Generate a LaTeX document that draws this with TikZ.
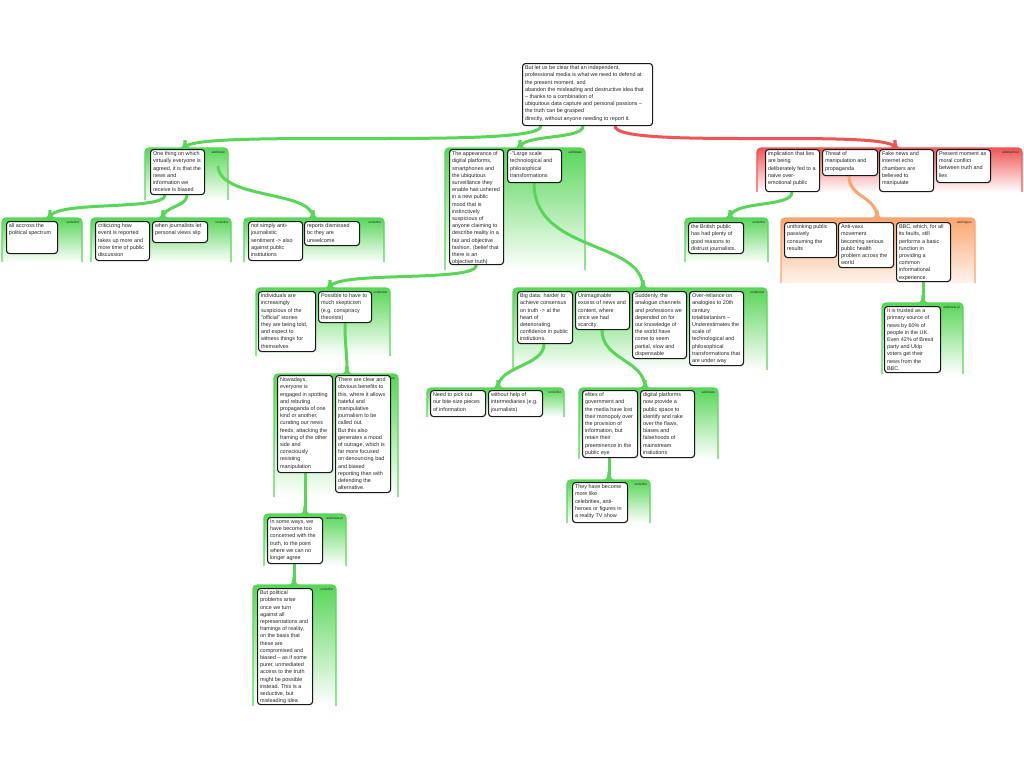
\documentclass[tikz,border=0pt]{standalone}
\usepackage{fontspec}
\setmainfont{Liberation Sans}
\usetikzlibrary{calc}
\pgfdeclarelayer{grp}
\pgfdeclarelayer{lnk}
\pgfsetlayers{grp,lnk,main}
\definecolor{grn}{RGB}{88,214,88}
\definecolor{rd}{RGB}{240,85,85}
\definecolor{org}{RGB}{250,165,110}
\tikzset{
  box/.style={draw=black!90, fill=white, line width=1.1pt, rounded corners=3pt, inner sep=0pt},
  txt/.style={font=\fontsize{5.45}{7.2}\selectfont, align=left, inner sep=0pt, text=black!85},
  lbl/.style={font=\fontsize{3.2}{3.6}\selectfont, inner sep=0pt, text=black!85},
  link/.style={draw=#1, line width=3pt},
}
% group background: name, x1, y1, x2, y2, colour, bottom colour, label
\newcommand\grp[8]{%
  \begin{pgfonlayer}{grp}
  \shade[top color=#6, bottom color=#7, rounded corners=4pt] (#2,#3) rectangle (#4,#5);
  \draw[#6, line width=1.3pt, rounded corners=4pt] (#2,#5) -- (#2,#3) -- (#4,#3) -- (#4,#5);
  \node[lbl, anchor=north east] (#1) at (#4-3,#3+3) {#8};
  \end{pgfonlayer}}
% box: name, x, y, w, h, text
\newcommand\bx[6]{%
  \node[box, minimum width=#4pt, minimum height=#5pt, anchor=north west] (#1) at (#2,#3) {};
  \node[txt, anchor=north west] (#1t) at ($(#1.north west)+(2.8,2.6)$) {#6};}
\newcommand\flare[2]{\fill[#1, shift={(#2)}] (-6,0) .. controls (-2,0) and (-1.5,-4) .. (-1.5,-8) -- (1.5,-8) .. controls (1.5,-4) and (2,0) .. (6,0) -- cycle;}

\begin{document}
\begin{tikzpicture}[x=1pt,y=-1pt]
\begin{pgfonlayer}{grp}
\fill[white] (0,0) rectangle (1024,768);
\end{pgfonlayer}
\useasboundingbox (0,0) rectangle (1024,768);

% ---------- group backgrounds ----------
\grp{g1l}{145}{148}{228}{200}{grn}{white}{add/state}
\grp{g2l}{445}{148}{585}{270}{grn}{white}{add/state}
\grp{grl}{757}{148}{1022}{192}{rd}{white}{add/spt/line}
\grp{g1al}{2}{218}{82}{262}{grn}{white}{underlist}
\grp{g1bl}{91}{218}{231}{262}{grn}{white}{underlist}
\grp{g1cl}{244}{218}{384}{262}{grn}{white}{underlist}
\grp{g11l}{685}{218}{768}{262}{grn}{white}{underlist}
\grp{g12l}{781}{218}{975}{283}{org}{org!12}{add/ingres}
\grp{g13l}{882}{303}{963}{374}{grn}{white}{add/state.pl}
\grp{g3l}{256}{288}{390}{356}{grn}{white}{understat}
\grp{g5l}{513}{288}{767}{370}{grn}{white}{understat}
\grp{g4l}{274}{374}{398}{497}{grn}{white}{add/state}
\grp{g8l}{427}{388}{564}{417}{grn}{white}{underlist}
\grp{g9l}{579}{388}{718}{459}{grn}{white}{add/state}
\grp{g10l}{567}{480}{650}{523}{grn}{white}{underlist}
\grp{g6l}{264}{514}{346}{566}{grn}{white}{add/state.pl}
\grp{g7l}{253}{585}{336}{706}{grn}{white}{underlist}

% ---------- connection points ----------
\coordinate (g1) at (185,148);
\coordinate (g2) at (520,148);
\coordinate (gr) at (895,148);
\coordinate (g1a) at (50,218);
\coordinate (g1b) at (163,218);
\coordinate (g1c) at (313,218);
\coordinate (g1x) at (218,166);
\coordinate (g3) at (330,288);
\coordinate (g5) at (643,288);
\coordinate (g4) at (347,374);
\coordinate (g6) at (305,514);
\coordinate (g7) at (294,585);
\coordinate (g8) at (498,388);
\coordinate (g9) at (645,388);
\coordinate (g10) at (609,480);
\coordinate (g11) at (730,218);
\coordinate (g12) at (877,218);
\coordinate (g13) at (923,303);

% ---------- boxes ----------
\bx{T}{522}{63}{130}{62}{But let us be clear that an independent,\\professional media is what we need to defend at\\the present moment, and\\abandon the misleading and destructive idea that\\-- thanks to a combination of\\ubiquitous data capture and personal passions --\\the truth can be grasped\\directly, without anyone needing to report it.}

\bx{A1}{150}{149}{54}{45}{One thing on which\\virtually everyone is\\agreed, it is that the\\news and\\information we\\receive is biased}
\bx{A2}{6}{221}{51}{32}{all accross the\\political spectrum}
\bx{A3}{95}{221}{54}{39}{criticizing how\\event is reported\\takes up more and\\more time of public\\discussion}
\bx{A4}{152}{221}{55}{21}{when journalists let\\personal views slip}
\bx{A5}{248}{221}{54}{39}{not simply anti-\\journalistic\\sentiment -> also\\against public\\institutions}
\bx{A6}{304}{221}{55}{24}{reports dismissed\\bc they are\\unwelcome}

\bx{B1}{449}{149}{54}{115}{The appearance of\\digital platforms,\\smartphones and\\the ubiquitous\\surveillance they\\enable has ushered\\in a new public\\mood that is\\instinctively\\suspicious of\\anyone claiming to\\describe reality in a\\fair and objective\\fashion. (belief that\\there is an\\objective truth)}
\bx{B2}{507}{149}{54}{33}{-{}"Large scale\\technological and\\philosophical\\transformations}

\bx{C1}{258}{291}{57}{60}{individuals are\\increasingly\\suspicious of the\\"official" stories\\they are being told,\\and expect to\\witness things for\\themselves}
\bx{C2}{318}{291}{53}{31}{Possible to have to\\much skepticism\\(e.g. conspiracy\\theorists)}

\bx{D1}{277}{375}{55}{97}{Nowadays,\\everyone is\\engaged in spotting\\and rebuting\\propaganda of one\\kind or another,\\curating our news\\feeds, attacking the\\framing of the other\\side and\\consciously\\resisting\\manipulation}
\bx{D2}{335}{375}{55}{117}{There are clear and\\obvious benefits to\\this, where it allows\\hateful and\\manipulative\\journalism to be\\called out.\\But this also\\generates a mood\\of outrage, which is\\far more focused\\on denouncing bad\\and biased\\reporting than with\\defending the\\alternative.}

\bx{E1}{267}{517}{55}{46}{In some ways, we\\have become too\\concerned with the\\truth, to the point\\where we can no\\longer agree}
\bx{F1}{257}{588}{55}{116}{But political\\problems arise\\once we turn\\against all\\representations and\\framings of reality,\\on the basis that\\these are\\compromised and\\biased -- as if some\\purer, unmediated\\access to the truth\\might be possible\\instead. This is a\\seductive, but\\misleading idea}

\bx{H1}{517}{291}{55}{52}{Big data: harder to\\achieve consensus\\on truth -> at the\\heart of\\deteriorating\\confidence in public\\instiutions.}
\bx{H2}{575}{291}{54}{38}{Unimaginable\\excess of news and\\content, where\\once we had\\scarcity}
\bx{H3}{632}{291}{54}{67}{Suddenly, the\\analogue channels\\and professions we\\depended on for\\our knowledge of\\the world have\\come to seem\\partial, slow and\\dispensable}
\bx{H4}{689}{291}{54}{74}{Over-reliance on\\analogies to 20th\\century\\totalitarianism --\\Underestimates the\\scale of\\technological and\\philosophical\\transformations that\\are under way}

\bx{K1}{430}{390}{55}{26}{Need to pick out\\our bite-size pieces\\of information}
\bx{K2}{488}{390}{54}{26}{without help of\\intermediaries (e.g.\\journalists)}
\bx{L1}{582}{390}{55}{67}{elites of\\government and\\the media have lost\\their monopoly over\\the provision of\\information, but\\retain their\\preeminence in the\\public eye}
\bx{L2}{640}{390}{54}{67}{digital platforms\\now provide a\\public space to\\identify and rake\\over the flaws,\\biases and\\falsehoods of\\mainstream\\instiutions}
\bx{M1}{572}{482}{55}{40}{They have become\\more like\\celebrities, anti-\\heroes or figures in\\a reality TV show}

\bx{R1}{765}{149}{54}{42}{implication that lies\\are being\\deliberately fed to a\\naive over-\\emotional public}
\bx{R2}{822}{149}{55}{26}{Threat of\\manipulation and\\propaganda}
\bx{R3}{879}{149}{54}{42}{Fake news and\\internet echo\\chambers are\\believed to\\manipulate}
\bx{R4}{936}{149}{54}{33}{Present moment as\\moral conflict\\between truth and\\lies}

\bx{P1}{688}{222}{55}{31}{the British public\\has had plenty of\\good reasons to\\distrust journalists.}
\bx{Q1}{784}{222}{52}{35}{unthinking public\\passively\\consuming the\\results}
\bx{Q2}{838}{222}{55}{45}{Anti-vaxx\\movement\\becoming serious\\public health\\problem across the\\world}
\bx{Q3}{896}{222}{54}{59}{BBC, which, for all\\its faults, still\\performs a basic\\function in\\providing a\\common\\informational\\experience.}
\bx{S1}{884}{306}{56}{66}{It is trusted as a\\primary source of\\news by 60\% of\\people in the UK.\\Even 42\% of Brexit\\party and Ukip\\voters get their\\news from the\\BBC.}

% ---------- connectors (drawn beneath the boxes) ----------
\begin{pgfonlayer}{lnk}
\draw[link=grn] ($(T.south west)+(19,0)$) .. controls (541,150) and (185,128) .. (g1);
\draw[link=grn] ($(T.south west)+(61,0)$) .. controls (583,140) and (520,134) .. (g2);
\draw[link=rd] ($(T.south west)+(93,0)$) .. controls (615,150) and (895,128) .. (gr);
\flare{grn}{g1}\flare{grn}{g2}\flare{rd}{gr}

\draw[link=grn] ($(A1.south west)+(15,0)$) .. controls +(0,16) and (50,200) .. (g1a);
\draw[link=grn] ($(A1.south west)+(37,0)$) .. controls +(0,12) and (163,206) .. (g1b);
\draw[link=grn] (g1x) .. controls (220,200) and (313,190) .. (g1c);
\flare{grn}{g1a}\flare{grn}{g1b}\flare{grn}{g1c}

\draw[link=grn] (B1.south) .. controls +(0,18) and (330,270) .. (g3);
\draw[link=grn] ($(B2.south west)+(27,0)$) .. controls +(0,70) and (643,240) .. (g5);
\flare{grn}{g3}\flare{grn}{g5}

\draw[link=grn] ($(C2.south west)+(27,0)$) .. controls +(0,25) and +(0,-25) .. (g4);
\draw[link=grn] ($(D1.south west)+(28,0)$) -- (g6);
\draw[link=grn] ($(E1.south west)+(27,0)$) -- (g7);
\flare{grn}{g4}\flare{grn}{g6}\flare{grn}{g7}

\draw[link=grn] ($(H1.south west)+(27,0)$) .. controls +(0,22) and (498,366) .. (g8);
\draw[link=grn] ($(H2.south west)+(27,0)$) .. controls +(0,30) and (645,360) .. (g9);
\draw[link=grn] ($(L1.south west)+(27,0)$) -- (g10);
\flare{grn}{g8}\flare{grn}{g9}\flare{grn}{g10}

\draw[link=grn] ($(R1.south west)+(27,0)$) .. controls +(0,16) and (730,200) .. (g11);
\draw[link=org] ($(R2.south west)+(27,0)$) .. controls +(0,22) and (877,196) .. (g12);
\draw[link=grn] ($(Q3.south west)+(27,0)$) -- (g13);
\flare{grn}{g11}\flare{org}{g12}\flare{grn}{g13}
\end{pgfonlayer}
\end{tikzpicture}
\end{document}
